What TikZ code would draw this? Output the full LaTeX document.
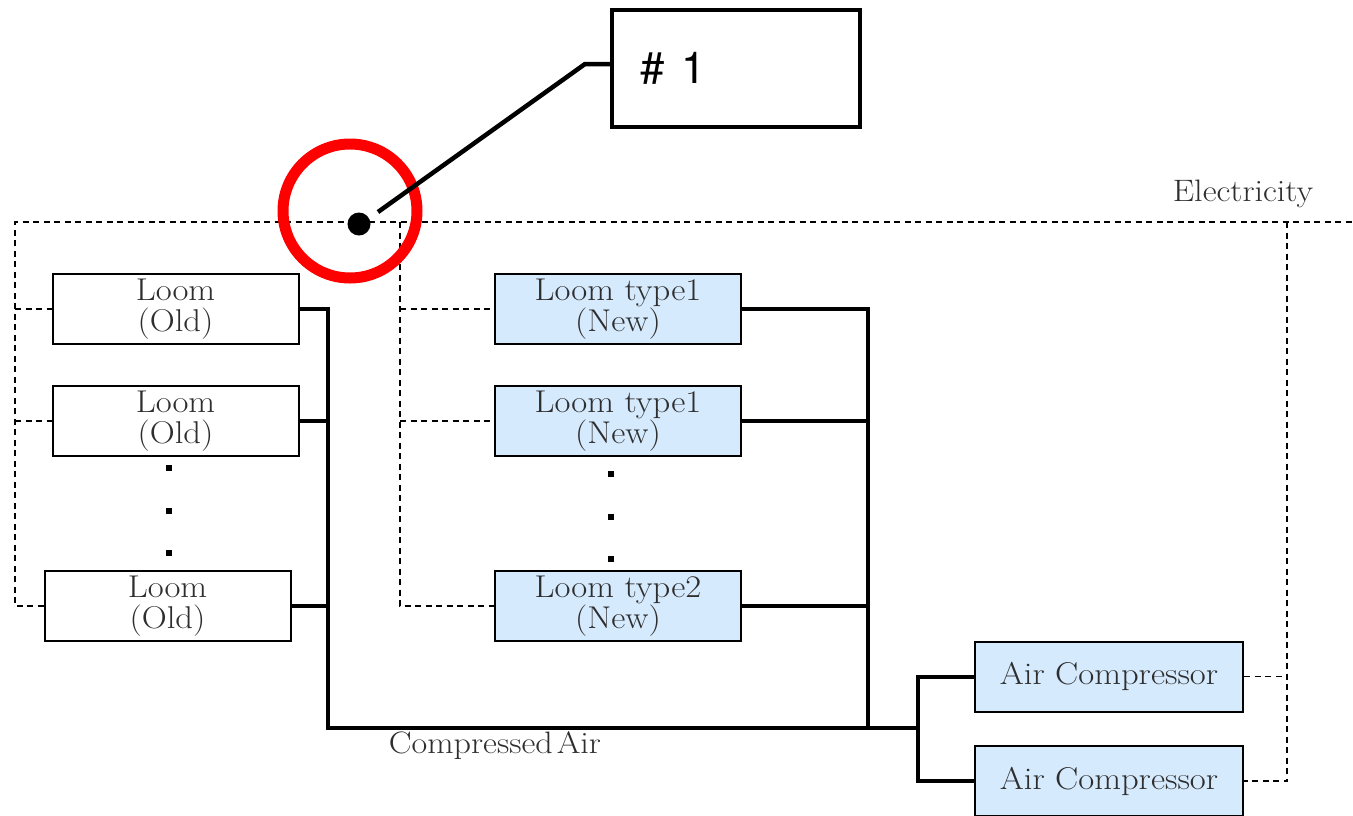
\documentclass[tikz,border=0pt]{standalone}
\usepackage{fontspec}
\setmainfont[FakeStretch=1.1]{Latin Modern Roman}
\newfontfamily\calloutfont{TeX Gyre Heros}
\definecolor{txtgray}{HTML}{2E2E2E}
\definecolor{boxblue}{HTML}{D6EAFD}
\begin{document}
\begin{tikzpicture}[x=1pt,y=-1pt,
  loombox/.style={draw=black, line width=2, minimum width=246, minimum height=70, inner sep=0,
    align=center, text=txtgray, font=\fontsize{31.5}{30.5}\selectfont},
  newbox/.style={loombox, fill=boxblue},
  airbox/.style={loombox, fill=boxblue, minimum width=268},
  air/.style={line width=4, line join=miter},
  elec/.style={line width=1.6, dash pattern=on 6 off 4.5},
  sq/.style={fill=black, minimum size=6, inner sep=0},
  lbl/.style={text=txtgray, font=\fontsize{31}{30}\selectfont, inner sep=0}]
\useasboundingbox (0,0) rectangle (1353,815);
% looms (old)
\node[loombox] (o1) at (175.5,309) {Loom\\(Old)};
\node[loombox] (o2) at (175.5,421) {Loom\\(Old)};
\node[loombox] (o3) at (167.5,606) {Loom\\(Old)};
% looms (new)
\node[newbox] (n1) at (618,309) {Loom type1\\(New)};
\node[newbox] (n2) at (618,421) {Loom type1\\(New)};
\node[newbox] (n3) at (618,606) {Loom type2\\(New)};
% compressors
\node[airbox] (a1) at (1109,676.5) {Air Compressor};
\node[airbox] (a2) at (1109,781) {Air Compressor};
% dots
\node[sq] (d1) at (169,468) {};
\node[sq] (d2) at (169,511) {};
\node[sq] (d3) at (169,553) {};
\node[sq] (d4) at (611,474) {};
\node[sq] (d5) at (611,517) {};
\node[sq] (d6) at (611,559) {};
% compressed air network
\coordinate (L) at (328,728);
\coordinate (R) at (868,728);
\coordinate (J) at (918,728);
\draw[air] (o1.east) -| (L) -- (J);
\draw[air] (o2.east) -- (o2.east -| L);
\draw[air] (o3.east) -- (o3.east -| L);
\draw[air] (n1.east) -| (R);
\draw[air] (n2.east) -- (n2.east -| R);
\draw[air] (n3.east) -- (n3.east -| R);
\draw[air] (a1.west) -| (J) |- (a2.west);
% electricity network
\coordinate (EL) at (15,222);
\coordinate (EM) at (400,222);
\coordinate (ER) at (1287,222);
\coordinate (EE) at (1353,222);
\draw[elec] (o3.west) -| (EL) -- (EE);
\draw[elec] (o1.west -| EL) -- (o1.west);
\draw[elec] (o2.west -| EL) -- (o2.west);
\draw[elec] (EM) |- (n3.west);
\draw[elec] (n1.west -| EM) -- (n1.west);
\draw[elec] (n2.west -| EM) -- (n2.west);
\draw[elec] (ER) |- (a2.east);
\draw[elec] (a1.east) -- (a1.east -| ER);
% labels
\node[lbl] (elab) at (1243,194) {Electricity};
\node[lbl] (clab) at (495,746) {Compressed\kern4pt Air};
% callout
\node[draw=black, line width=4.5, minimum width=248, minimum height=117, text width=192,
  inner xsep=28, inner ysep=0, align=left, font=\calloutfont\fontsize{44}{44}\selectfont]
  (c1) at (736,68.5) {\#\hspace{0.38em}1};
\node[circle, draw=red, line width=11, minimum size=134, inner sep=0] (ring) at (350,211) {};
\node[circle, fill=black, minimum size=23, inner sep=0] (pt) at (359,224) {};
\coordinate (k) at (585,64);
\draw[line width=4.5] (pt) ++(19,-12) coordinate (s) -- (k) -- (k -| c1.west);
\end{tikzpicture}
\end{document}
